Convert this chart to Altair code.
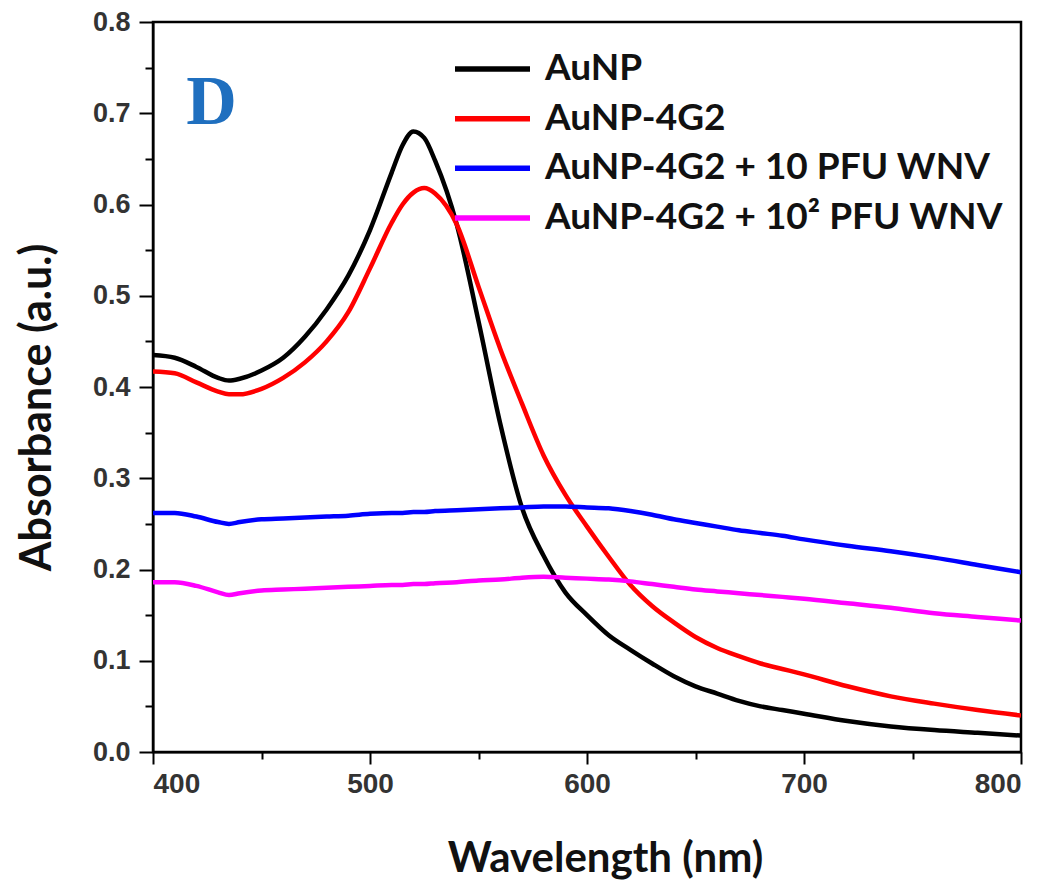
import altair as alt
import pandas as pd

# ---------------- data ----------------
wavelength = [400, 410, 420, 430, 435, 440, 450, 460, 470, 480, 490, 500, 510, 515,
              520, 525, 530, 540, 550, 560, 570, 580, 590, 600, 610, 620, 630, 640,
              650, 660, 670, 680, 690, 700, 720, 740, 760, 780, 800]

abs_aunp = [0.435, 0.432, 0.422, 0.410, 0.407, 0.409, 0.418, 0.432, 0.455, 0.485,
            0.522, 0.572, 0.635, 0.665, 0.680, 0.673, 0.648, 0.578, 0.472, 0.360,
            0.268, 0.215, 0.175, 0.150, 0.128, 0.112, 0.097, 0.083, 0.072, 0.064,
            0.056, 0.050, 0.046, 0.042, 0.034, 0.028, 0.024, 0.021, 0.018]

abs_4g2 = [0.417, 0.415, 0.405, 0.395, 0.392, 0.392, 0.398, 0.410, 0.427, 0.450,
           0.482, 0.530, 0.580, 0.600, 0.613, 0.618, 0.612, 0.578, 0.510, 0.442,
           0.382, 0.325, 0.282, 0.247, 0.214, 0.183, 0.160, 0.142, 0.126, 0.114,
           0.105, 0.097, 0.091, 0.085, 0.072, 0.061, 0.053, 0.046, 0.040]

abs_10pfu = [0.262, 0.262, 0.258, 0.252, 0.250, 0.252, 0.255, 0.256, 0.257, 0.258,
             0.259, 0.261, 0.262, 0.262, 0.263, 0.263, 0.264, 0.265, 0.266, 0.267,
             0.268, 0.269, 0.269, 0.268, 0.267, 0.264, 0.260, 0.255, 0.251, 0.247,
             0.243, 0.240, 0.237, 0.233, 0.226, 0.220, 0.213, 0.205, 0.197]

abs_100pfu = [0.186, 0.186, 0.182, 0.175, 0.172, 0.174, 0.177, 0.178, 0.179, 0.180,
              0.181, 0.182, 0.183, 0.183, 0.184, 0.184, 0.185, 0.186, 0.188, 0.189,
              0.191, 0.192, 0.191, 0.190, 0.189, 0.187, 0.184, 0.181, 0.178, 0.176,
              0.174, 0.172, 0.170, 0.168, 0.163, 0.158, 0.152, 0.148, 0.144]

series_names = ["AuNP", "AuNP-4G2", "AuNP-4G2 + 10 PFU WNV", "AuNP-4G2 + 10\u00b2 PFU WNV"]
series_colors = ["#000000", "#ff0000", "#0000ff", "#ff00ff"]
series_values = [abs_aunp, abs_4g2, abs_10pfu, abs_100pfu]

x_ticks = [400, 450, 500, 550, 600, 650, 700, 750, 800]
y_ticks = [0.0, 0.05, 0.1, 0.15, 0.2, 0.25, 0.3, 0.35, 0.4, 0.45, 0.5, 0.55,
           0.6, 0.65, 0.7, 0.75, 0.8]

panel_label = ["D"]
panel_label_x = [427]
panel_label_y = [0.711]

# ---------------- tables ----------------
rows = []
for name, vals in zip(series_names, series_values):
    for w, a in zip(wavelength, vals):
        rows.append({"Wavelength": w, "Absorbance": a, "Sample": name})
df = pd.DataFrame(rows)

df_label = pd.DataFrame({"x": panel_label_x, "y": panel_label_y, "t": panel_label})
df_legend = pd.DataFrame({"Sample": series_names})

x_scale = alt.Scale(domain=[400, 800], nice=False, zero=False)
y_scale = alt.Scale(domain=[0, 0.8], nice=False, zero=False)
color_scale = alt.Scale(domain=series_names, range=series_colors)
# legend rows placed by a point scale (pixel range inside the plot area)
legend_row_scale = alt.Scale(type="point", domain=series_names, range=[47, 196], padding=0)

x_axis = alt.Axis(
    title="Wavelength (nm)",
    values=x_ticks,
    format="d",
    labelExpr="datum.value % 100 === 0 ? datum.label : ''",
    tickSize={"condition": {"test": "datum.value % 100 === 0", "value": 12}, "value": 7},
    labelPadding=6,
    labelFont="Liberation Sans Narrow, Liberation Sans",
    labelFontWeight="bold",
    labelFontSize=28,
    labelColor="#333333",
    titleFont="Lato",
    titleFontWeight="bold",
    titleFontSize=42,
    titleColor="#111111",
    titleX=452,
    titleY=106,
    titleAlign="center",
    titleBaseline="middle",
    grid=False,
)

y_axis = alt.Axis(
    title="Absorbance (a.u.)",
    values=y_ticks,
    labelExpr="round(datum.value * 100) % 10 === 0 ? format(datum.value, '.1f') : ''",
    tickSize={"condition": {"test": "round(datum.value * 100) % 10 === 0", "value": 14},
              "value": 8},
    labelPadding=9,
    labelFont="Liberation Sans",
    labelFontWeight="bold",
    labelFontSize=27,
    labelColor="#333333",
    titleFont="Lato",
    titleFontWeight="bold",
    titleFontSize=43,
    titleColor="#111111",
    titleX=-116,
    titleY=385,
    titleAngle=-90,
    titleAlign="center",
    titleBaseline="middle",
    grid=False,
)

lines = alt.Chart(df).mark_line(strokeWidth=4.5, interpolate="monotone", clip=True).encode(
    x=alt.X("Wavelength:Q", scale=x_scale, axis=x_axis),
    y=alt.Y("Absorbance:Q", scale=y_scale, axis=y_axis),
    color=alt.Color("Sample:N", scale=color_scale, sort=series_names, legend=None),
    order=alt.Order("Wavelength:Q"),
)

label = alt.Chart(df_label).mark_text(
    font="Liberation Serif", fontWeight="bold", fontSize=70, color="#1f6fbf",
    align="center", baseline="middle",
).encode(
    x=alt.X("x:Q", scale=x_scale),
    y=alt.Y("y:Q", scale=y_scale, axis=None),
    text="t:N",
)

legend_lines = alt.Chart(df_legend).mark_rule(strokeWidth=5.5).encode(
    x=alt.value(302),
    x2=alt.value(377),
    y=alt.Y("Sample:N", scale=legend_row_scale, axis=None),
    color=alt.Color("Sample:N", scale=color_scale, legend=None),
)

legend_text = alt.Chart(df_legend).mark_text(
    font="Lato", fontWeight="bold", fontSize=37, color="#111111",
    align="left", baseline="middle",
).encode(
    x=alt.value(392),
    y=alt.Y("Sample:N", scale=legend_row_scale, axis=None),
    text="Sample:N",
)

chart = alt.layer(lines, label, legend_lines, legend_text).resolve_scale(
    y="independent"
).properties(
    width=868,
    height=730,
    autosize=alt.AutoSizeParams(type="none"),
    padding={"left": 145, "top": 14, "right": 21, "bottom": 136},
).configure_view(
    stroke="black", strokeWidth=2.5,
).configure_axis(
    domainColor="black", domainWidth=2, tickColor="black", tickWidth=2,
)

chart.save("out.html", embed_options={"renderer": "svg", "actions": False})
